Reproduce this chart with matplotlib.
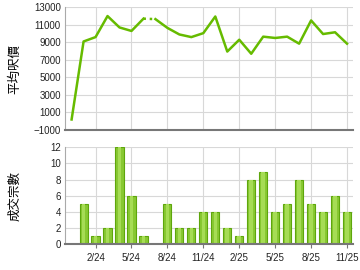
import numpy as np
import matplotlib.pyplot as plt

# monthly data, 12/23 .. 11/25
months = ["12/23", "1/24", "2/24", "3/24", "4/24", "5/24", "6/24", "7/24",
          "8/24", "9/24", "10/24", "11/24", "12/24", "1/25", "2/25", "3/25",
          "4/25", "5/25", "6/25", "7/25", "8/25", "9/25", "10/25", "11/25"]
avg_price = [200, 9100, 9600, 12000, 10700, 10300, 11700, 11650,
             10650, 9900, 9600, 10050, 11950, 7950, 9300, 7700,
             9650, 9500, 9650, 8850, 11500, 9950, 10150, 8850]
deals = [0, 5, 1, 2, 12, 6, 1, 0, 5, 2, 2, 4, 4, 2, 1, 8, 9, 4, 5, 8, 5, 4, 6, 4]
tick_labels = ["2/24", "5/24", "8/24", "11/24", "2/25", "5/25", "8/25", "11/25"]

plt.rcParams['font.family'] = ['Liberation Sans', 'DejaVu Sans']
cjk = ['Noto Sans CJK TC', 'DejaVu Sans']
green = "#66bb00"

x = np.arange(len(months))
tick_pos = [months.index(t) for t in tick_labels]

fig = plt.figure(figsize=(3.6, 2.7), dpi=100)
fig.patch.set_facecolor("white")
ax1 = fig.add_axes([0.1806, 0.5185, 0.8, 0.4545])
ax2 = fig.add_axes([0.1806, 0.0963, 0.8, 0.358])

for ax in (ax1, ax2):
    ax.set_xlim(-0.55, len(months) - 0.5)
    ax.set_xticks(tick_pos)
    ax.grid(True, color="#d8d8d8", lw=0.8)
    ax.set_axisbelow(True)
    for s in ("top", "right"):
        ax.spines[s].set_visible(False)
    ax.spines["left"].set_color("#aaaaaa")
    ax.spines["bottom"].set_color("#777777")
    ax.spines["bottom"].set_linewidth(1.5)
    ax.tick_params(axis="y", length=0, pad=3, labelsize=7, colors="#222222")
    ax.tick_params(axis="x", length=3, color="#777777", labelsize=7, colors="#222222")

# price line, dotted where the gap month is
ax1.plot(x[:7], avg_price[:7], color=green, lw=1.8)
ax1.plot(x[6:8], avg_price[6:8], color=green, lw=1.8, ls=(0, (1, 1.5)))
ax1.plot(x[7:], avg_price[7:], color=green, lw=1.8)
ax1.set_ylim(-1000, 13000)
ax1.set_yticks(range(-1000, 13001, 2000))
ax1.set_xticklabels([])
ax1.tick_params(axis="x", length=0)
ax1.set_ylabel("平均呎價", family=cjk, fontsize=9)
ax1.yaxis.set_label_coords(-0.153, 0.5)

# deal count bars
ax2.bar(x, deals, width=0.68, color="#88c832", edgecolor="#5ea60c", lw=0.8)
ax2.bar(x, deals, width=0.3, color="#a6dc55", lw=0)
ax2.set_ylim(0, 12)
ax2.set_yticks(range(0, 13, 2))
ax2.set_xticklabels(tick_labels)
ax2.set_ylabel("成交宗數", family=cjk, fontsize=9)
ax2.yaxis.set_label_coords(-0.153, 0.5)

fig.savefig("out.png", dpi=100, facecolor="white")
